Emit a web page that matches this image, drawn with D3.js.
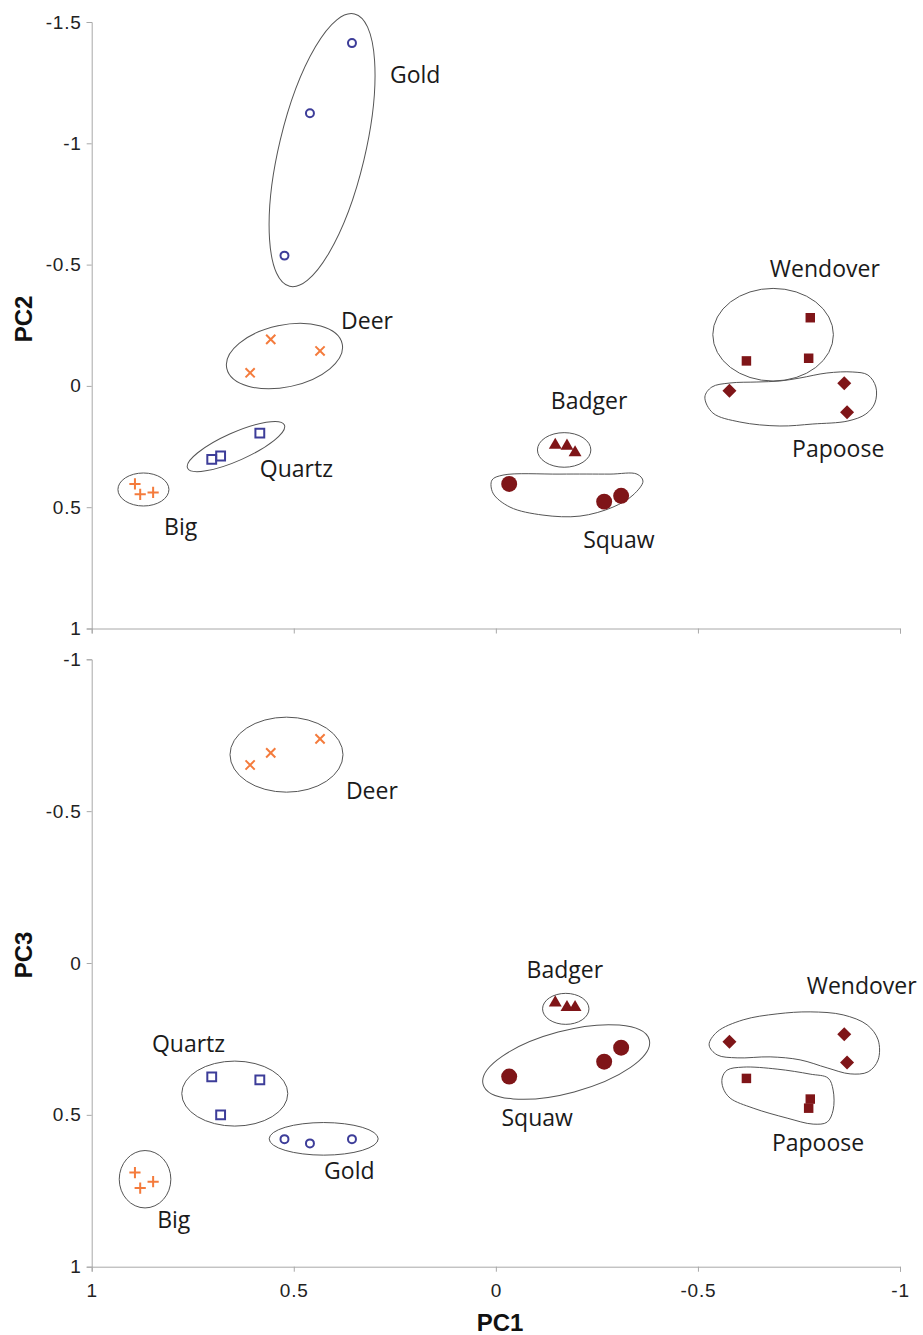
<!DOCTYPE html>
<html>
<head>
<meta charset="utf-8">
<script src="https://cdn.jsdelivr.net/npm/d3@7"></script>
<style>
  body { margin: 0; background: #fff; }
  .tick text { font-family: "Liberation Sans", Arial, sans-serif; font-size: 19px; letter-spacing: 0.8px; fill: #222; }
  .axis path, .axis line { stroke: #a8a8a8; }
</style>
</head>
<body>
<svg id="chart"></svg>
<script>
// sites, three samples each (same order in every PC array)
let sites = ["Gold", "Deer", "Quartz", "Big", "Badger", "Squaw", "Wendover", "Papoose"];

let pc1 = [
  [0.356, 0.460, 0.523],
  [0.557, 0.608, 0.435],
  [0.703, 0.681, 0.584],
  [0.893, 0.880, 0.848],
  [-0.147, -0.176, -0.196],
  [-0.033, -0.268, -0.310],
  [-0.778, -0.620, -0.774],
  [-0.578, -0.862, -0.869]
];
let pc2 = [
  [-1.413, -1.124, -0.537],
  [-0.192, -0.054, -0.144],
  [0.303, 0.289, 0.195],
  [0.404, 0.447, 0.439],
  [0.244, 0.248, 0.275],
  [0.404, 0.477, 0.453],
  [-0.281, -0.103, -0.114],
  [0.020, -0.011, 0.109]
];
let pc3 = [
  [0.580, 0.594, 0.580],
  [-0.692, -0.652, -0.738],
  [0.375, 0.500, 0.385],
  [0.690, 0.741, 0.720],
  [0.131, 0.146, 0.146],
  [0.374, 0.325, 0.279],
  [0.448, 0.380, 0.478],
  [0.259, 0.235, 0.328]
];

let xTicks = [1, 0.5, 0, -0.5, -1];
let pc2Ticks = [-1.5, -1, -0.5, 0, 0.5, 1];
let pc3Ticks = [-1, -0.5, 0, 0.5, 1];

// marker look per site
let navy = "#3d3d99", orange = "#f47b3c", red = "#7f1518";
let markerStyle = {
  Gold: { kind: "circle", size: 50, fill: "none", stroke: navy },
  Deer: { kind: "times", size: 4.6, fill: "none", stroke: orange },
  Quartz: { kind: "square", size: 78, fill: "none", stroke: navy },
  Big: { kind: "plus", size: 5.6, fill: "none", stroke: orange },
  Badger: { kind: "triangle", size: 72, fill: red, stroke: "none" },
  Squaw: { kind: "circle", size: 200, fill: red, stroke: "none" },
  Wendover: { kind: "square", size: 90, fill: red, stroke: "none" },
  Papoose: { kind: "diamond", size: 98, fill: red, stroke: "none" }
};

// cluster outlines: centre in PC units, radii / offsets in pixels
let outlinesTop = [
  { cx: 0.430, cy: -0.972, rx: 43, ry: 140, angle: 13.4 },
  { cx: 0.523, cy: -0.123, rx: 59, ry: 31, angle: -12 },
  { cx: 0.643, cy: 0.250, rx: 53, ry: 14, angle: -24 },
  { cx: 0.872, cy: 0.427, rx: 25.5, ry: 16.5, angle: 0 },
  { cx: -0.169, cy: 0.264, rx: 26.7, ry: 17.3, angle: 0 },
  { cx: -0.686, cy: -0.211, rx: 60.3, ry: 46.3, angle: 0 },
  { cx: -0.176, cy: 0.446, blob: [[-75,-14],[-64,-19],[-7,-20],[43,-20],[70,-20],[76,-13],[66,1],[46,13],[13,22],[-24,21],[-57,13],[-74,-1]] },
  { cx: -0.730, cy: 0.054, blob: [[-86,-2],[-79,-12],[-61,-16],[-34,-17],[-11,-18],[9,-21],[36,-26],[62,-27],[77,-24],[85,-12],[84,4],[75,15],[57,22],[22,25],[-11,27],[-51,23],[-78,14]] }
];
let outlinesBottom = [
  { cx: 0.518, cy: -0.686, rx: 56.5, ry: 37.5, angle: 0 },
  { cx: 0.646, cy: 0.430, rx: 53, ry: 32.5, angle: 0 },
  { cx: 0.426, cy: 0.579, rx: 54.5, ry: 16.3, angle: 0 },
  { cx: 0.868, cy: 0.712, rx: 25.8, ry: 28.7, angle: 0 },
  { cx: -0.173, cy: 0.151, rx: 23.2, ry: 15.5, angle: 0 },
  { cx: -0.174, cy: 0.326, rx: 86, ry: 31, angle: -15 },
  { cx: -0.738, cy: 0.263, blob: [[-85,2],[-77,-11],[-51,-23],[-17,-29],[16,-31],[49,-28],[73,-18],[84,-3],[84,17],[74,29],[56,31],[33,25],[6,17],[-24,14],[-57,15],[-77,12]] },
  { cx: -0.696, cy: 0.435, blob: [[-55,-17],[-50,-25],[-34,-28],[0,-26],[33,-21],[51,-17],[56,-5],[56,15],[50,27],[36,29],[10,23],[-24,13],[-47,3],[-54,-7]] }
];

// label text + anchor (text start, baseline) in PC units
let labelsTop = [
  ["Gold", 0.262, -1.249], ["Deer", 0.383, -0.235], ["Quartz", 0.584, 0.376], ["Big", 0.821, 0.615],
  ["Badger", -0.136, 0.095], ["Squaw", -0.216, 0.668], ["Wendover", -0.678, -0.449], ["Papoose", -0.733, 0.293]
];
let labelsBottom = [
  ["Deer", 0.371, -0.540], ["Quartz", 0.851, 0.293], ["Gold", 0.425, 0.711], ["Big", 0.838, 0.873],
  ["Badger", -0.076, 0.049], ["Squaw", -0.014, 0.537], ["Wendover", -0.769, 0.102], ["Papoose", -0.683, 0.619]
];

let w = 923, h = 1335;
let svg = d3.select("#chart").attr("width", w).attr("height", h);

let x = d3.scaleLinear().domain([1, -1]).range([91.7, 900]);

let panels = [
  { y: d3.scaleLinear().domain([-1.5, 1]).range([22, 628.5]), ticks: pc2Ticks, pc: pc2,
    title: "PC2", titleY: 319, xLabels: false, outlines: outlinesTop, labels: labelsTop },
  { y: d3.scaleLinear().domain([-1, 1]).range([659.3, 1266.7]), ticks: pc3Ticks, pc: pc3,
    title: "PC3", titleY: 955, xLabels: true, outlines: outlinesBottom, labels: labelsBottom }
];

function markerPath(st) {
  let s = st.size;
  if (st.kind == "plus") return `M${-s},0H${s}M0,${-s}V${s}`;
  if (st.kind == "times") return `M${-s},${-s}L${s},${s}M${-s},${s}L${s},${-s}`;
  if (st.kind == "circle") return d3.symbol(d3.symbolCircle, s)();
  if (st.kind == "triangle") return d3.symbol(d3.symbolTriangle, s)();
  return d3.symbol(d3.symbolSquare, s)();
}

let blobLine = d3.line().curve(d3.curveCatmullRomClosed.alpha(0.5));

panels.forEach(p => {
  let y = p.y;

  // axes
  svg.append("g")
    .attr("class", "axis")
    .attr("transform", `translate(${x.range()[0]},0)`)
    .call(d3.axisLeft(y).tickValues(p.ticks).tickSize(5).tickPadding(5).tickFormat(d => String(d)));

  svg.append("g")
    .attr("class", "axis")
    .attr("transform", `translate(0,${y.range()[1]})`)
    .call(d3.axisBottom(x).tickValues(xTicks).tickSize(5).tickPadding(12)
      .tickFormat(d => p.xLabels ? String(d) : ""));
  svg.selectAll(".axis .domain").attr("stroke", "#a8a8a8");

  // axis title
  svg.append("text")
    .attr("transform", `translate(32,${p.titleY}) rotate(-90)`)
    .attr("text-anchor", "middle")
    .style("font-family", "Liberation Sans, Arial, sans-serif")
    .style("font-weight", "bold")
    .style("font-size", "24px")
    .style("fill", "#111")
    .text(p.title);

  // cluster outlines
  p.outlines.forEach(o => {
    let cx = x(o.cx), cy = y(o.cy);
    if (o.blob) {
      svg.append("path")
        .attr("d", blobLine(o.blob))
        .attr("transform", `translate(${cx},${cy})`)
        .attr("fill", "none")
        .attr("stroke", "#555")
        .attr("stroke-width", 1);
    } else {
      svg.append("ellipse")
        .attr("rx", o.rx)
        .attr("ry", o.ry)
        .attr("transform", `translate(${cx},${cy}) rotate(${o.angle})`)
        .attr("fill", "none")
        .attr("stroke", "#555")
        .attr("stroke-width", 1);
    }
  });

  // points
  sites.forEach((site, i) => {
    let st = markerStyle[site];
    let pts = pc1[i].map((v, j) => [v, p.pc[i][j]]);
    svg.append("g").selectAll("path")
      .data(pts)
      .enter()
      .append("path")
      .attr("d", markerPath(st))
      .attr("transform", d => `translate(${x(d[0])},${y(d[1])})` + (st.kind == "diamond" ? " rotate(45)" : ""))
      .attr("fill", st.fill)
      .attr("stroke", st.stroke)
      .attr("stroke-width", st.fill == "none" ? 2 : 0);
  });

  // site labels
  svg.append("g").selectAll("text")
    .data(p.labels)
    .enter()
    .append("text")
    .attr("x", d => x(d[1]))
    .attr("y", d => y(d[2]))
    .style("font-family", "Open Sans, Noto Sans, sans-serif")
    .style("font-size", "23px")
    .style("fill", "#1a1a1a")
    .text(d => d[0]);
});

// PC1 title
svg.append("text")
  .attr("x", 500)
  .attr("y", 1331)
  .attr("text-anchor", "middle")
  .style("font-family", "Liberation Sans, Arial, sans-serif")
  .style("font-weight", "bold")
  .style("font-size", "24px")
  .style("fill", "#111")
  .text("PC1");
</script>
</body>
</html>
